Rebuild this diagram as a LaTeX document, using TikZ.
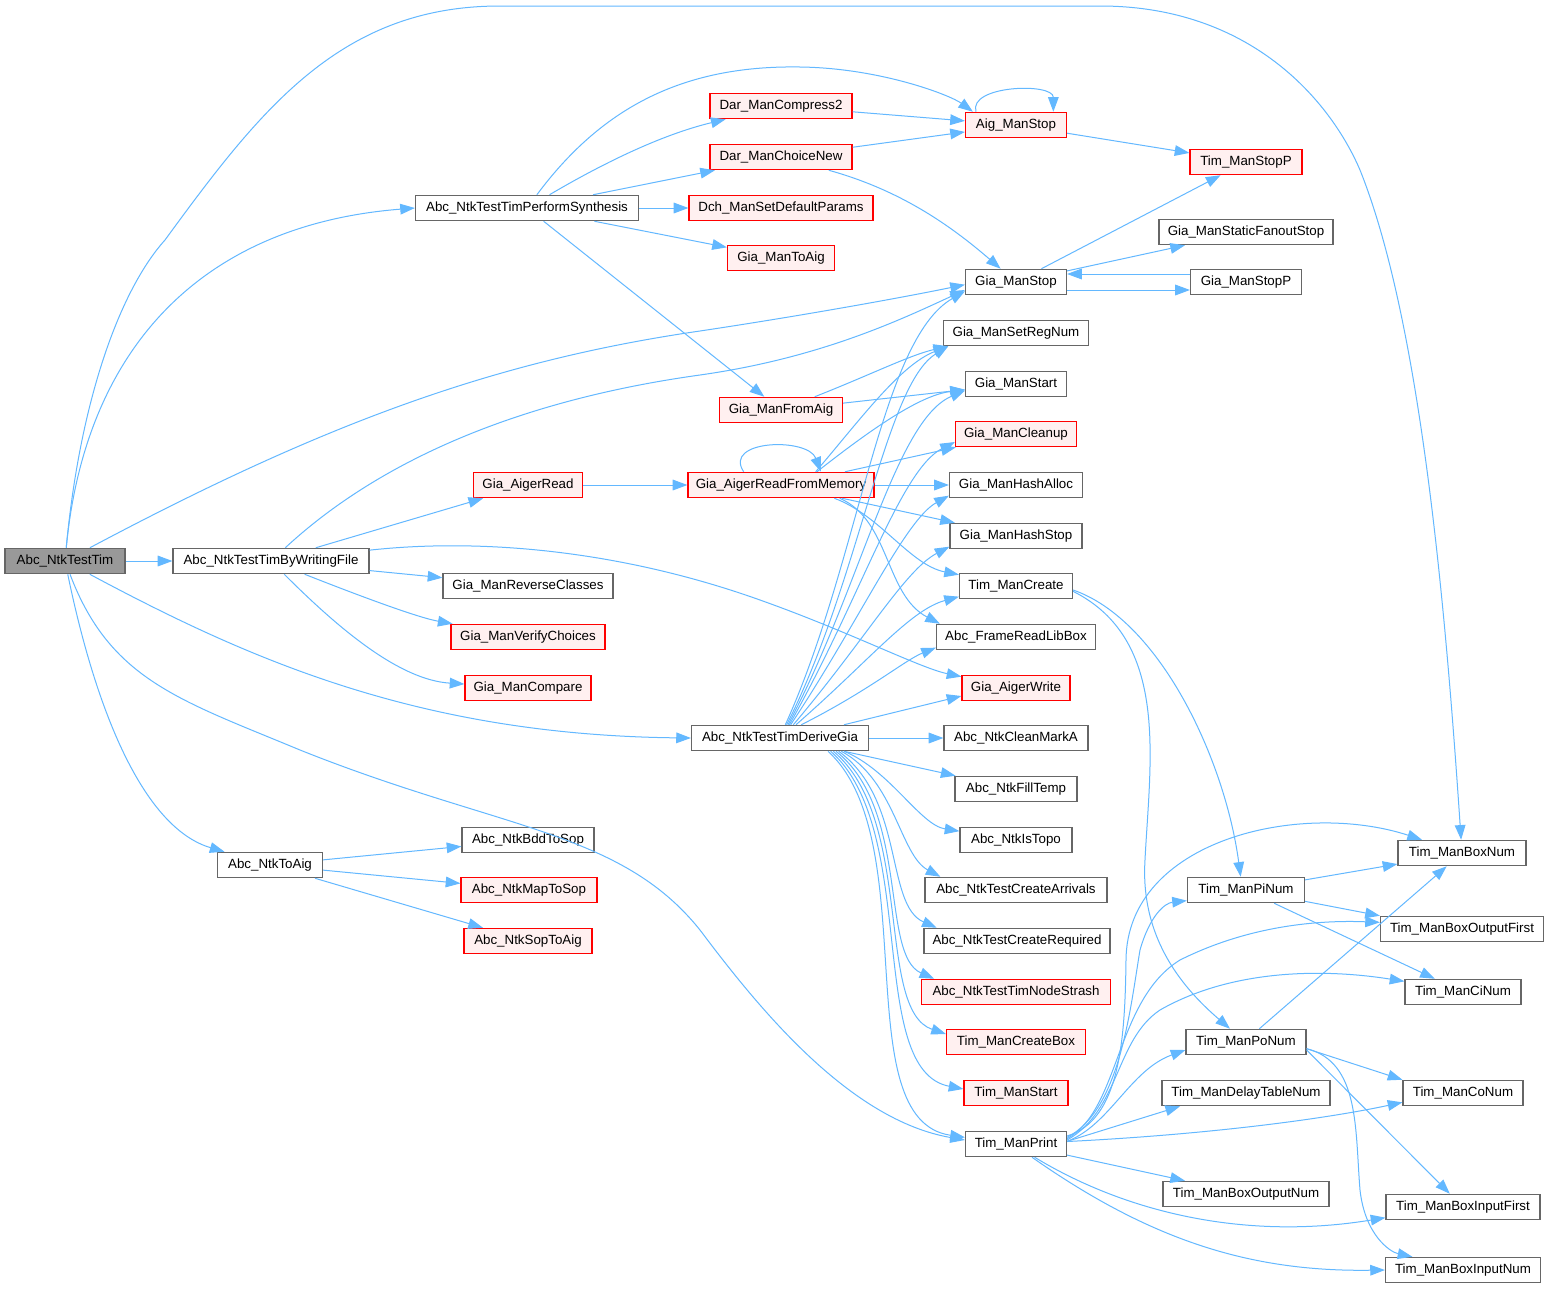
\documentclass[tikz,border=0pt]{standalone}
\usepackage{fontspec}
\setmainfont{Liberation Sans}
\usetikzlibrary{arrows.meta}
\definecolor{edgeblue}{HTML}{63B8FF}
\definecolor{nodegray}{HTML}{666666}
\definecolor{redfill}{HTML}{FFF0F0}
\definecolor{rootfill}{HTML}{999999}
\definecolor{nodered}{HTML}{FF0000}
\tikzset{
 nb/.style={draw=nodegray, fill=white, line width=0.9pt, minimum height=19pt, inner sep=0pt, font=\fontsize{10}{12}\selectfont},
 nr/.style={nb, draw=nodered, fill=redfill},
 nroot/.style={nb, fill=rootfill},
 wd/.style={minimum width=#1*0.75pt},
 e/.style={draw=edgeblue, line width=0.75pt, -{Triangle[length=11pt,width=8pt]}},
}
\begin{document}
\begin{tikzpicture}[x=0.75pt,y=-0.75pt]
\path[use as bounding box, fill=white] (0,0) rectangle (1550,1289);
% nodes
\node[nroot,wd=120] (root) at (65,561) {Abc\_NtkTestTim};
\node[nb,wd=223] (ps) at (527,208) {Abc\_NtkTestTimPerformSynthesis};
\node[nb,wd=196] (bw) at (271,561) {Abc\_NtkTestTimByWritingFile};
\node[nb,wd=105] (ta) at (270,865) {Abc\_NtkToAig};
\node[nb,wd=177] (dg) at (780,738) {Abc\_NtkTestTimDeriveGia};
\node[nr,wd=142] (dc2) at (781,106) {Dar\_ManCompress2};
\node[nr,wd=142] (dcn) at (781,157) {Dar\_ManChoiceNew};
\node[nr,wd=184] (dch) at (781,208) {Dch\_ManSetDefaultParams};
\node[nr,wd=107] (gta) at (781,258) {Gia\_ManToAig};
\node[nr,wd=123] (gfa) at (781,410) {Gia\_ManFromAig};
\node[nr,wd=109] (gar) at (528,485) {Gia\_AigerRead};
\node[nr,wd=186] (garm) at (781,485) {Gia\_AigerReadFromMemory};
\node[nb,wd=170] (grc) at (528,586) {Gia\_ManReverseClasses};
\node[nr,wd=154] (gvc) at (528,637) {Gia\_ManVerifyChoices};
\node[nr,wd=126] (gcmp) at (528,688) {Gia\_ManCompare};
\node[nb,wd=132] (bdd) at (528,840) {Abc\_NtkBddToSop};
\node[nr,wd=136] (map) at (529,890) {Abc\_NtkMapToSop};
\node[nr,wd=128] (sop) at (528,941) {Abc\_NtkSopToAig};
\node[nr,wd=101] (ams) at (1016,125) {Aig\_ManStop};
\node[nb,wd=101] (gms) at (1016,282) {Gia\_ManStop};
\node[nb,wd=145] (gsr) at (1016,333) {Gia\_ManSetRegNum};
\node[nb,wd=101] (gst) at (1016,384) {Gia\_ManStart};
\node[nr,wd=121] (gcl) at (1016,434) {Gia\_ManCleanup};
\node[nb,wd=133] (gha) at (1016,485) {Gia\_ManHashAlloc};
\node[nb,wd=132] (ghs) at (1016,536) {Gia\_ManHashStop};
\node[nb,wd=113] (tmc) at (1016,586) {Tim\_ManCreate};
\node[nb,wd=159] (frl) at (1016,637) {Abc\_FrameReadLibBox};
\node[nr,wd=108] (gaw) at (1016,688) {Gia\_AigerWrite};
\node[nb,wd=144] (cma) at (1016,738) {Abc\_NtkCleanMarkA};
\node[nb,wd=122] (fill) at (1016,789) {Abc\_NtkFillTemp};
\node[nb,wd=112] (topo) at (1016,840) {Abc\_NtkIsTopo};
\node[nb,wd=182] (arr) at (1016,890) {Abc\_NtkTestCreateArrivals};
\node[nb,wd=186] (req) at (1017,941) {Abc\_NtkTestCreateRequired};
\node[nr,wd=189] (nstr) at (1016,992) {Abc\_NtkTestTimNodeStrash};
\node[nr,wd=139] (tcb) at (1016,1042) {Tim\_ManCreateBox};
\node[nr,wd=104] (tst) at (1016,1093) {Tim\_ManStart};
\node[nb,wd=101] (tpr) at (1016,1144) {Tim\_ManPrint};
\node[nr,wd=112] (tsp) at (1246,162) {Tim\_ManStopP};
\node[nb,wd=174] (gsf) at (1246,232) {Gia\_ManStaticFanoutStop};
\node[nb,wd=111] (gsp) at (1246,282) {Gia\_ManStopP};
\node[nb,wd=117] (tpi) at (1246,890) {Tim\_ManPiNum};
\node[nb,wd=120] (tpo) at (1246,1042) {Tim\_ManPoNum};
\node[nb,wd=168] (tdt) at (1246,1093) {Tim\_ManDelayTableNum};
\node[nb,wd=166] (tbon) at (1246,1194) {Tim\_ManBoxOutputNum};
\node[nb,wd=128] (tbn) at (1462,853) {Tim\_ManBoxNum};
\node[nb,wd=163] (tbof) at (1462,929) {Tim\_ManBoxOutputFirst};
\node[nb,wd=116] (tci) at (1463,992) {Tim\_ManCiNum};
\node[nb,wd=120] (tco) at (1463,1093) {Tim\_ManCoNum};
\node[nb,wd=154] (tbif) at (1463,1207) {Tim\_ManBoxInputFirst};
\node[nb,wd=155] (tbin) at (1463,1270) {Tim\_ManBoxInputNum};
% root edges
\draw[e] (root) .. controls (80,400) and (120,290) .. (165,240) .. controls (260,110) and (340,6) .. (500,6) -- (1100,6) .. controls (1250,6) and (1330,100) .. (1360,170) .. controls (1420,320) and (1445,600) .. (tbn);
\draw[e] (root) .. controls (85,350) and (200,225) .. (ps.west);
\draw[e] (root) .. controls (330,420) and (500,360) .. (700,331) .. controls (800,316) and (900,298) .. ([yshift=-2pt]gms.west);
\draw[e] (root) -- (bw);
\draw[e] (root) .. controls (250,660) and (420,735) .. (dg.west);
\draw[e] (root) .. controls (110,680) and (180,700) .. (300,750) .. controls (500,830) and (620,830) .. (700,930) .. controls (760,1010) and (850,1120) .. ([yshift=3pt]tpr.west);
\draw[e] (root) .. controls (100,730) and (150,830) .. (ta);
% PerformSynthesis
\draw[e] (ps) .. controls (600,110) and (680,65) .. (800,67) .. controls (880,68) and (950,95) .. ([xshift=6pt]ams.north west);
\draw[e] (ps) .. controls (600,165) and (660,135) .. (dc2);
\draw[e] (ps) -- (dcn);
\draw[e] (ps) -- (dch);
\draw[e] (ps) -- (gta);
\draw[e] (ps) -- (gfa);
\draw[e] (dc2) -- (ams);
\draw[e] (dcn) -- (ams);
\draw[e] (dcn) .. controls (900,190) and (950,225) .. (gms);
\draw[e] ([xshift=-30pt]ams.north) .. controls ([xshift=-36pt,yshift=20pt]ams.north) and ([xshift=28pt,yshift=22pt]ams.north) .. ([xshift=28pt]ams.north);
\draw[e] (ams) -- (tsp);
\draw[e] (gms) -- (tsp);
\draw[e] (gms) -- (gsf);
\draw[e] ([yshift=-6pt]gms.east) -- ([yshift=-6pt]gsp.west);
\draw[e] ([yshift=6pt]gsp.west) -- ([yshift=6pt]gms.east);
% ByWritingFile
\draw[e] (bw) .. controls (380,460) and (520,400) .. (700,375) .. controls (820,358) and (900,320) .. ([yshift=-6pt]gms.west);
\draw[e] (bw) -- (gar);
\draw[e] (bw) -- (grc);
\draw[e] (bw) .. controls (370,600) and (420,618) .. (gvc);
\draw[e] (bw) .. controls (340,630) and (400,680) .. (gcmp);
\draw[e] (bw) .. controls (480,538) and (620,550) .. (760,600) .. controls (850,632) and (920,668) .. (gaw);
\draw[e] (gar) -- (garm);
% AigerReadFromMemory
\draw[e] ([xshift=-28pt]garm.north) .. controls ([xshift=-44pt,yshift=24pt]garm.north) and ([xshift=20pt,yshift=26pt]garm.north) .. ([xshift=30pt]garm.north);
\draw[e] ([xshift=26pt]garm.north) .. controls (860,420) and (900,365) .. ([xshift=4pt]gsr.south west);
\draw[e] ([xshift=27pt]garm.north) .. controls (870,430) and (920,395) .. (gst);
\draw[e] ([xshift=48pt]garm.north) -- (gcl);
\draw[e] (garm) -- (gha);
\draw[e] (garm) -- (ghs);
\draw[e] ([xshift=40pt]garm.south) .. controls (880,515) and (910,565) .. (tmc);
\draw[e] ([xshift=44pt]garm.south) .. controls (890,520) and (885,595) .. ([xshift=3pt]frl.north west);
\draw[e] (gfa) .. controls (870,375) and (910,355) .. ([xshift=4pt]gsr.south west);
\draw[e] (gfa) -- (gst);
% DeriveGia
\draw[e] ([xshift=4pt]dg.north) .. controls (860,560) and (880,340) .. ([yshift=-7pt]gms.west);
\draw[e] ([xshift=5pt]dg.north) .. controls (860,580) and (885,385) .. ([xshift=4pt]gsr.south west);
\draw[e] ([xshift=6pt]dg.north) .. controls (860,590) and (895,420) .. ([yshift=-5pt]gst.west);
\draw[e] ([xshift=7pt]dg.north) .. controls (860,600) and (900,470) .. ([yshift=-6pt]gcl.west);
\draw[e] ([xshift=8pt]dg.north) .. controls (860,620) and (905,520) .. ([yshift=-8pt]gha.west);
\draw[e] ([xshift=10pt]dg.north) .. controls (865,640) and (905,570) .. ([yshift=-8pt]ghs.west);
\draw[e] ([xshift=12pt]dg.north) .. controls (870,660) and (910,610) .. ([yshift=-8pt]tmc.west);
\draw[e] ([xshift=16pt]dg.north) .. controls (870,690) and (905,660) .. ([yshift=-8pt]frl.west);
\draw[e] ([xshift=48pt]dg.north) -- ([yshift=-6pt]gaw.west);
\draw[e] (dg) -- (cma);
\draw[e] ([xshift=48pt]dg.south) -- (fill);
\draw[e] ([xshift=48pt]dg.south) .. controls (890,770) and (920,825) .. (topo);
\draw[e] ([xshift=46pt]dg.south) .. controls (895,780) and (900,855) .. ([xshift=12pt]arr.north west);
\draw[e] ([xshift=44pt]dg.south) .. controls (905,800) and (885,905) .. ([xshift=10pt]req.north west);
\draw[e] ([xshift=42pt]dg.south) .. controls (910,810) and (880,955) .. ([xshift=10pt]nstr.north west);
\draw[e] ([xshift=40pt]dg.south) .. controls (915,820) and (875,1010) .. ([yshift=6pt]tcb.west);
\draw[e] ([xshift=38pt]dg.south) .. controls (920,830) and (865,1070) .. ([yshift=3pt]tst.west);
\draw[e] ([xshift=36pt]dg.south) .. controls (925,840) and (845,1120) .. ([yshift=5pt]tpr.west);
% Tim_ManCreate
\draw[e] ([yshift=-3pt]tmc.east) .. controls (1160,620) and (1225,760) .. ([xshift=-4pt]tpi.north);
\draw[e] ([yshift=-4pt]tmc.east) .. controls (1170,640) and (1150,760) .. (1145,860) .. controls (1140,940) and (1185,990) .. ([xshift=-12pt]tpo.north);
% Tim_ManPiNum
\draw[e] (tpi) -- (tbn);
\draw[e] (tpi) -- (tbof.north west);
\draw[e] (tpi) -- (tci);
% Tim_ManPoNum
\draw[e] ([xshift=10pt]tpo.north) -- (tbn);
\draw[e] ([yshift=-5pt]tpo.east) -- (tco.north west);
\draw[e] ([yshift=-6pt]tpo.east) -- (tbif);
\draw[e] ([yshift=-5pt]tpo.east) .. controls (1360,1062) and (1355,1130) .. (1360,1190) .. controls (1365,1235) and (1390,1252) .. ([xshift=-38pt]tbin.north);
% Tim_ManPrint
\draw[e] ([yshift=6pt]tpr.east) .. controls (1120,1120) and (1125,1040) .. (1126,960) .. controls (1127,840) and (1300,800) .. ([xshift=-30pt]tbn.north);
\draw[e] ([yshift=5pt]tpr.east) .. controls (1120,1110) and (1130,1010) .. (1140,950) .. controls (1150,915) and (1165,903) .. ([yshift=-8pt]tpi.west);
\draw[e] ([yshift=4pt]tpr.east) .. controls (1120,1110) and (1115,1000) .. (1180,960) .. controls (1250,925) and (1320,920) .. ([yshift=5pt]tbof.west);
\draw[e] ([yshift=3pt]tpr.east) .. controls (1120,1110) and (1115,1040) .. (1160,1010) .. controls (1230,970) and (1320,968) .. ([yshift=8pt]tci.west);
\draw[e] ([yshift=2pt]tpr.east) .. controls (1110,1125) and (1130,1070) .. ([yshift=-6pt]tpo.west);
\draw[e] ([yshift=2pt]tpr.east) -- ([xshift=14pt]tdt.south west);
\draw[e] (tpr) .. controls (1200,1135) and (1320,1120) .. ([yshift=-7pt]tco.west);
\draw[e] (tpr) -- (tbon);
\draw[e] ([xshift=14pt]tpr.south) .. controls (1130,1215) and (1250,1240) .. ([yshift=-8pt]tbif.west);
\draw[e] ([xshift=12pt]tpr.south) .. controls (1150,1240) and (1250,1272) .. (tbin.west);
% ToAig
\draw[e] (ta) -- (bdd);
\draw[e] (ta) -- (map);
\draw[e] (ta) -- (sop);
\end{tikzpicture}
\end{document}
